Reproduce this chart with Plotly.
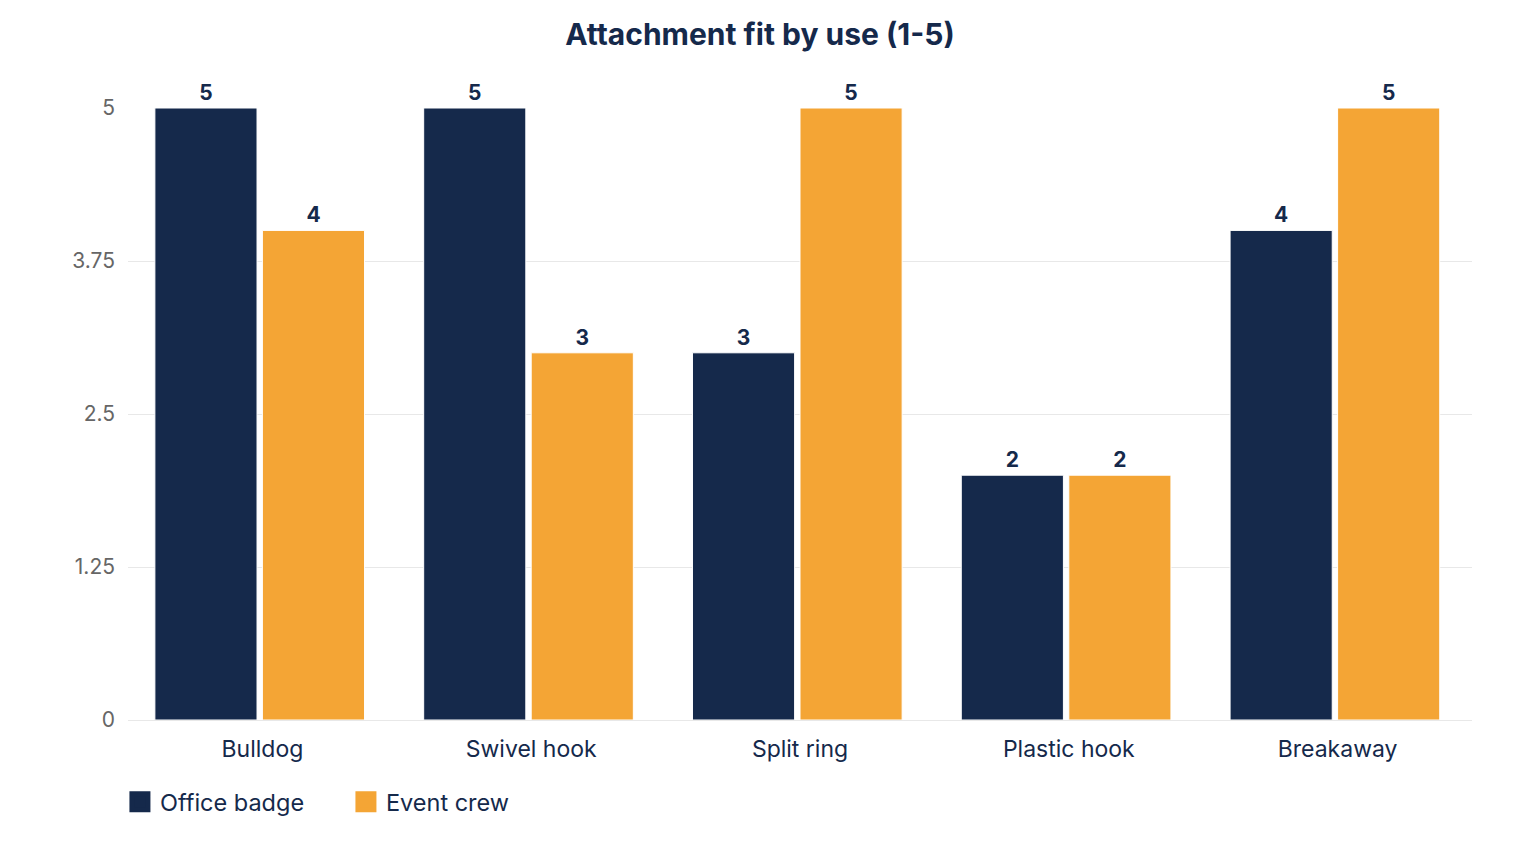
import plotly.graph_objects as go

categories = ["Bulldog", "Swivel hook", "Split ring", "Plastic hook", "Breakaway"]
office_badge = [5, 5, 3, 2, 4]
event_crew = [4, 3, 5, 2, 5]
y_ticks = [0, 1.25, 2.5, 3.75, 5]
y_tick_labels = ["0", "1.25", "2.5", "3.75", "5"]

NAVY = "#15294b"
ORANGE = "#f4a535"
FONT = "Inter"

fig = go.Figure()
series = [("Office badge", office_badge, NAVY, -0.40), ("Event crew", event_crew, ORANGE, 0.0)]
for name, vals, col, off in series:
    fig.add_trace(go.Bar(
        x=categories, y=vals, name=name, showlegend=False,
        offset=off, width=0.38,
        marker=dict(color=col, line=dict(color="white", width=1)),
        text=[str(v) for v in vals], textposition="outside",
        textfont=dict(family=FONT, size=21, color=NAVY, weight="bold"),
        cliponaxis=False, hoverinfo="x+y+name",
    ))
for name, vals, col, off in series:
    fig.add_trace(go.Scatter(
        x=[None], y=[None], mode="markers", name=name,
        marker=dict(symbol="square", size=24, color=col, line=dict(color=col, width=5)),
    ))

fig.update_layout(
    width=1520, height=860,
    margin=dict(l=128, r=48, t=108, b=140),
    paper_bgcolor="white", plot_bgcolor="white",
    font=dict(family=FONT, color=NAVY),
    title=dict(text="<b>Attachment fit by use (1-5)</b>", x=0.5, xanchor="center",
               y=1 - 34 / 860, yanchor="middle", yref="container",
               font=dict(family=FONT, size=30, color=NAVY)),
    barmode="group",
    legend=dict(orientation="h", x=-0.006, xanchor="left", y=-0.134, yanchor="middle",
                font=dict(family=FONT, size=23.5, color=NAVY), itemsizing="trace",
                itemwidth=30, traceorder="normal", entrywidth=181, entrywidthmode="pixels"),
    xaxis=dict(showgrid=False, showline=False, ticks="", ticklabelstandoff=13,
               tickfont=dict(family=FONT, size=23, color=NAVY)),
    yaxis=dict(range=[0, 5], tickvals=y_ticks, ticktext=y_tick_labels,
               showgrid=True, gridcolor="#e8e8e8", gridwidth=1,
               zeroline=True, zerolinecolor="#e8e8e8", zerolinewidth=1,
               showline=False, ticks="", ticklabelstandoff=12,
               tickfont=dict(family=FONT, size=21, color="#666666")),
)

fig.write_html("out.html")
